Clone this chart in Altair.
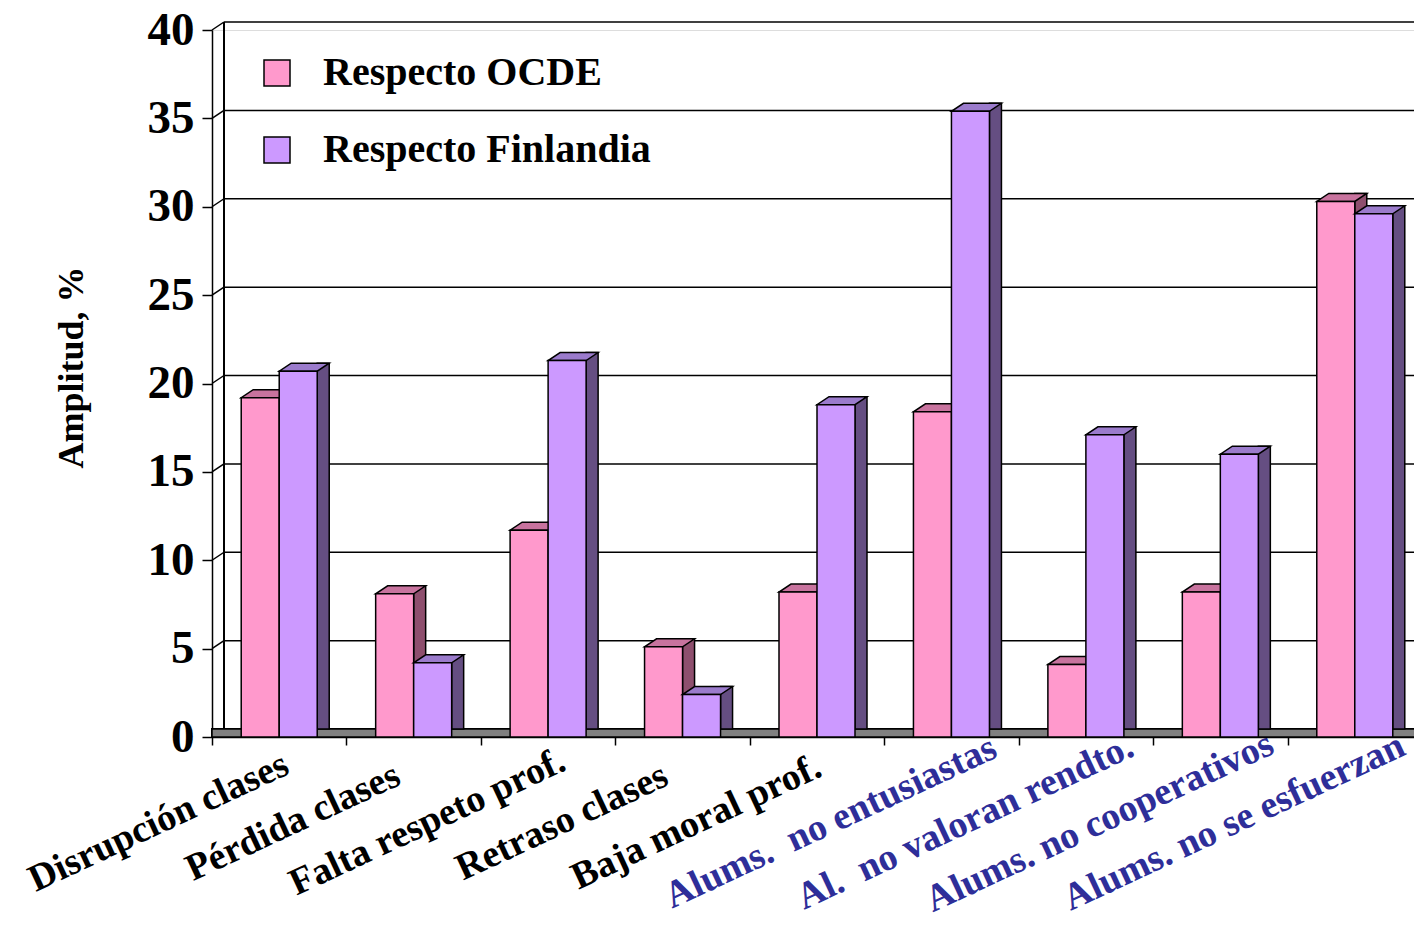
import altair as alt
import pandas as pd

categorias = [
    "Disrupción clases",
    "Pérdida clases",
    "Falta respeto prof.",
    "Retraso clases",
    "Baja moral prof.",
    "Alums.\u00a0 no entusiastas",
    "Al.\u00a0 no valoran rendto.",
    "Alums. no cooperativos",
    "Alums. no se esfuerzan",
]
series = ["Respecto OCDE", "Respecto Finlandia"]
ocde = [19.2, 8.1, 11.7, 5.1, 8.2, 18.4, 4.1, 8.2, 30.3]
finlandia = [20.7, 4.2, 21.3, 2.4, 18.8, 35.4, 17.1, 16.0, 29.6]
ticks_y = [0, 5, 10, 15, 20, 25, 30, 35, 40]
azules = categorias[5:]

front_colors = ["#FF99CC", "#CC99FF"]
top_colors = ["#C8739E", "#9B7BCC"]
side_colors = ["#8E4F6E", "#654E82"]

rows = []
for c, a, b in zip(categorias, ocde, finlandia):
    rows.append({"cat": c, "serie": series[0], "valor": a})
    rows.append({"cat": c, "serie": series[1], "valor": b})
df = pd.DataFrame(rows)
grid = pd.DataFrame({"v": ticks_y})

W = 1210
H = 707
DX = 12
DY = -8
BW = 38
FONT = "Liberation Serif"

test_expr = "indexof([" + ",".join("'" + a + "'" for a in azules) + "], datum.value) >= 0"

xenc = alt.X(
    "cat:N",
    sort=categorias,
    scale=alt.Scale(paddingInner=0, paddingOuter=0),
    axis=alt.Axis(
        title=None,
        labelAngle=-25,
        labelAlign="center",
        labelBaseline="middle",
        labelFont=FONT,
        labelFontSize=38,
        labelFontWeight="bold",
        labelLimit=800,
        labelPadding=77,
        labelOffset=-121,
        labelColor={"condition": {"test": test_expr, "value": "#2E2E99"}, "value": "black"},
        tickBand="extent",
        tickSize=8,
        tickColor="black",
        tickWidth=1.5,
        domainColor="black",
        domainWidth=1.5,
        grid=False,
    ),
)

yscale = alt.Scale(domain=[0, 40], nice=False)
yenc = alt.Y(
    "valor:Q",
    scale=yscale,
    axis=alt.Axis(
        title="Amplitud, %",
        values=ticks_y,
        labelFont=FONT,
        labelFontSize=47,
        labelFontWeight="bold",
        labelPadding=8,
        labelColor="black",
        tickSize=10,
        tickColor="black",
        tickWidth=1.5,
        domainColor="black",
        domainWidth=1.5,
        grid=False,
        titleFont=FONT,
        titleFontSize=36,
        titleFontWeight="bold",
        titleColor="black",
        titleX=-122,
        titleY=337,
    ),
)

base = alt.Chart(df)

back_grid = alt.Chart(grid).mark_rule(yOffset=DY, color="black", strokeWidth=1.5).encode(
    x=alt.value(DX), x2=alt.value(W + 8), y=alt.Y("v:Q", scale=yscale)
)
side_diag = alt.Chart(grid).mark_rule(y2Offset=DY, color="black", strokeWidth=1.5).encode(
    x=alt.value(0), x2=alt.value(DX), y=alt.Y("v:Q", scale=yscale), y2=alt.Y2("v:Q")
)
back_vert = alt.Chart(grid).mark_rule(yOffset=DY, y2Offset=DY, color="black", strokeWidth=1.5).encode(
    x=alt.value(DX), y=alt.datum(40, scale=yscale), y2=alt.datum(0)
)
floor = alt.Chart(grid).mark_rect(y2Offset=DY, fill="#808080", stroke="black", strokeWidth=1.5).encode(
    x=alt.value(0), x2=alt.value(W + 8), y=alt.datum(0, scale=yscale), y2=alt.datum(0)
)

top_path = "M -0.59375 0 L 0.59375 0 L 0.96875 -0.25 L -0.21875 -0.25 Z"

layers = [back_grid, side_diag, back_vert, floor]
for i, s in enumerate(series):
    off = -BW / 2 if i == 0 else BW / 2
    sub = base.transform_filter(alt.datum.serie == s)
    side = sub.mark_bar(
        width=DX, xOffset=off + BW / 2 + DX / 2, yOffset=DY, y2Offset=DY,
        fill=side_colors[i], stroke="black", strokeWidth=1.5
    ).encode(x=xenc, y=yenc, y2=alt.datum(0))
    top = sub.mark_point(
        shape=top_path, size=4096, filled=True, opacity=1, xOffset=off,
        fill=top_colors[i], stroke="black", strokeWidth=1.5
    ).encode(x=xenc, y=yenc)
    front = sub.mark_bar(
        width=BW, xOffset=off, stroke="black", strokeWidth=1.5
    ).encode(
        x=xenc,
        y=yenc,
        y2=alt.datum(0),
        color=alt.Color(
            "serie:N",
            scale=alt.Scale(domain=series, range=front_colors),
            sort=series,
            legend=alt.Legend(
                title=None,
                orient="none",
                legendX=45,
                legendY=23,
                direction="vertical",
                symbolType="square",
                symbolSize=676,
                symbolStrokeColor="black",
                symbolStrokeWidth=1.5,
                symbolOpacity=1,
                labelFont=FONT,
                labelFontSize=40,
                labelFontWeight="bold",
                labelColor="black",
                labelOffset=26,
                rowPadding=37,
                padding=0,
                labelLimit=600,
            ),
        ),
    )
    layers += [side, top, front]

chart = alt.layer(*layers).properties(
    width=W,
    height=H,
    autosize=alt.AutoSizeParams(type="none"),
    padding={"left": 204, "top": 22, "right": -8, "bottom": 183},
).configure_view(strokeWidth=0).configure(background="white")

chart.save("out.html", embed_options={"renderer": "svg", "actions": False})
